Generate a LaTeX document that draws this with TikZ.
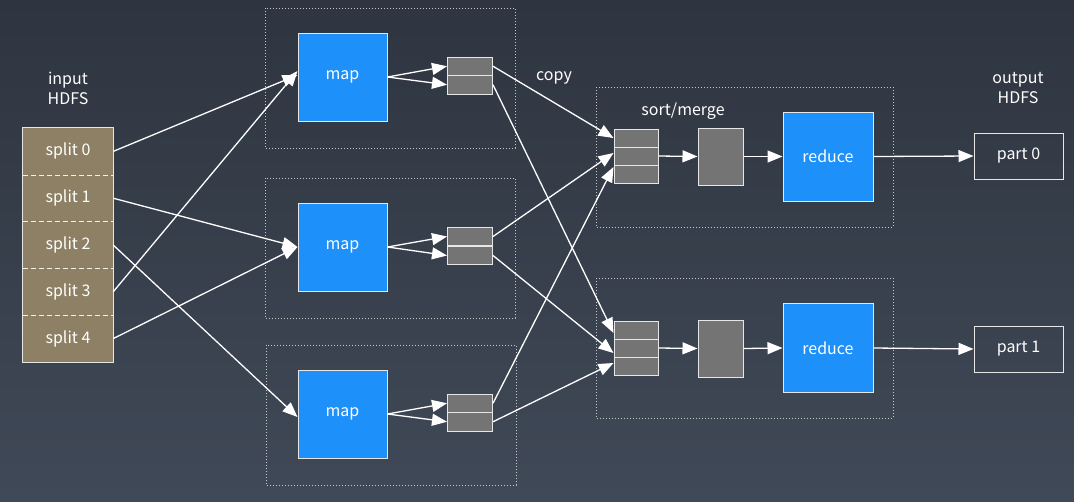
\documentclass[tikz,border=0pt]{standalone}
\usepackage{fontspec}
\setmainfont{Noto Sans CJK SC}
\usetikzlibrary{arrows.meta}
\definecolor{bgtop}{HTML}{2E3540}
\definecolor{bgbot}{HTML}{404957}
\definecolor{mapblue}{HTML}{1E90FA}
\definecolor{cellgray}{HTML}{747474}
\definecolor{splitbrown}{HTML}{8E8065}
\definecolor{edgewhite}{HTML}{E6E6E6}
\definecolor{dotgray}{HTML}{C8C8C8}
\begin{document}
\begin{tikzpicture}[x=1pt,y=-1pt,
  every node/.style={font=\fontsize{16}{20}\selectfont, text=white, inner sep=0pt},
  lbl/.style={align=center},
  splitcell/.style={fill=splitbrown, minimum width=90pt, minimum height=46.8pt},
  mapbox/.style={draw=edgewhite, fill=mapblue, line width=1pt, minimum width=89pt, minimum height=88pt},
  cell/.style={draw=edgewhite, fill=cellgray, line width=1pt, minimum width=45pt, minimum height=18.5pt},
  mcell/.style={draw=edgewhite, fill=cellgray, line width=1pt, minimum width=44pt, minimum height=18pt},
  graybox/.style={draw=edgewhite, fill=cellgray, line width=1pt, minimum width=45pt, minimum height=57pt},
  redbox/.style={draw=edgewhite, fill=mapblue, line width=1pt, minimum width=90pt, minimum height=89pt},
  partbox/.style={draw=edgewhite, line width=1pt, minimum width=89pt, minimum height=46pt},
  group/.style={draw=dotgray, dotted, line width=1pt},
  arr/.style={draw=white, line width=1.3pt, -{Triangle[length=15pt,width=12pt]}},
]
% background
\shade[top color=bgtop, bottom color=bgbot] (0,0) rectangle (1074,501);
\useasboundingbox (0,0) rectangle (1074,501);

% group frames
\draw[group] (265,8) rectangle (515,148);
\draw[group] (265,178) rectangle (515,318);
\draw[group] (266,345) rectangle (516,485);
\draw[group] (596,87) rectangle (893,227);
\draw[group] (596,278) rectangle (893,418);

% input
\node[lbl] (inlbl) at (68,88) {input\\HDFS};
\node[splitcell] (s0) at (68,151.4) {split 0};
\node[splitcell] (s1) at (68,198.2) {split 1};
\node[splitcell] (s2) at (68,245.0) {split 2};
\node[splitcell] (s3) at (68,291.8) {split 3};
\node[splitcell] (s4) at (68,338.6) {split 4};
\foreach \a/\b in {s0/s1,s1/s2,s2/s3,s3/s4}
  \draw[white!90!gray, dashed, line width=1pt, dash pattern=on 5pt off 3pt] (\a.south west) -- (\a.south east);
\draw[edgewhite, line width=1pt] (s0.north west) rectangle (s4.south east);

% maps
\node[mapbox] (map1) at (342.5,77) {map};
\node[mapbox] (map2) at (342.5,247) {map};
\node[mapbox] (map3) at (342.5,414) {map};

% map buffers
\node[cell] (b1a) at (470,66.25) {};
\node[cell] (b1b) at (470,84.75) {};
\node[cell] (b2a) at (470,236.5) {};
\node[cell] (b2b) at (470,255.5) {};
\node[cell] (b3a) at (470,403.25) {};
\node[cell] (b3b) at (470,421.75) {};

\node (copy) at (554,78) {copy};
\node (sm) at (683,111) {sort/merge};

% merge buffers
\node[mcell] (m1a) at (636,138) {};
\node[mcell] (m1b) at (636,156) {};
\node[mcell] (m1c) at (636,174) {};
\node[mcell] (m2a) at (636,330) {};
\node[mcell] (m2b) at (636,348) {};
\node[mcell] (m2c) at (636,366) {};

\node[graybox] (g1) at (720.5,156.5) {};
\node[graybox] (g2) at (720.5,348.5) {};
\node[redbox] (r1) at (828,156.5) {reduce};
\node[redbox] (r2) at (828,348) {reduce};
\node[partbox] (p0) at (1018.5,156) {part 0};
\node[partbox] (p1) at (1018.5,349) {part 1};
\node[lbl] (outlbl) at (1018,88) {output\\HDFS};

% split -> map
\draw[arr] (s0.east) -- ([yshift=2pt]map1.west);
\draw[arr] (s3.east) -- ([yshift=6pt]map1.west);
\draw[arr] (s1.east) -- (map2.west);
\draw[arr] (s4.east) -- (map2.west);
\draw[arr] (s2.east) -- ([yshift=-3pt]map3.west);

% map -> buffers
\foreach \m/\b in {map1/b1,map2/b2,map3/b3}{
  \draw[arr] (\m.east) -- (\b a.west);
  \draw[arr] (\m.east) -- (\b b.west);
}

% copy
\draw[arr] (b1a.east) -- (m1a.west);
\draw[arr] (b2a.east) -- ([yshift=3pt]m1b.west);
\draw[arr] (b3a.east) -- ([yshift=7pt]m1c.west);
\draw[arr] (b1b.east) -- ([yshift=-3pt]m2a.west);
\draw[arr] (b2b.east) -- ([yshift=-5pt]m2b.west);
\draw[arr] (b3b.east) -- ([yshift=3pt]m2c.west);

% reduce chain
\draw[arr] (m1b.east) -- (g1.west);
\draw[arr] (g1.east) -- (r1.west);
\draw[arr] (r1.east) -- (p0.west);
\draw[arr] (m2b.east) -- (g2.west);
\draw[arr] (g2.east) -- (r2.west);
\draw[arr] (r2.east) -- (p1.west);
\end{tikzpicture}
\end{document}
